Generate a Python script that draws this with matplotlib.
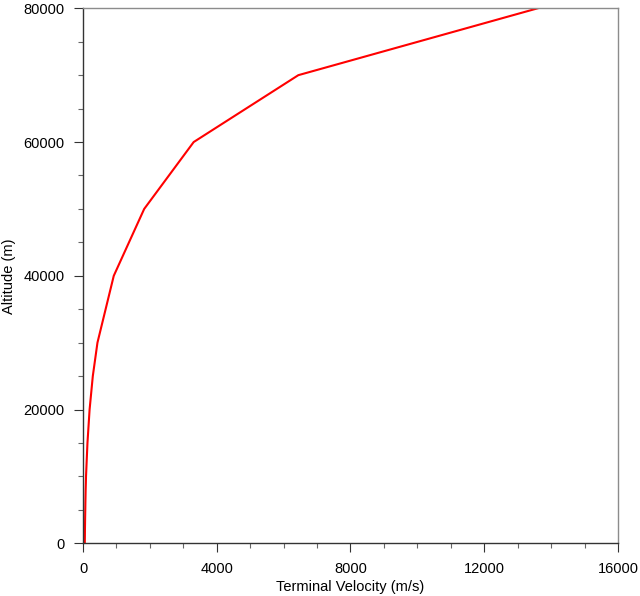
import matplotlib
matplotlib.use("Agg")
import matplotlib.pyplot as plt
from matplotlib.ticker import MultipleLocator

# altitude (m) vs terminal velocity (m/s)
altitude = [0, 1000, 2000, 3000, 4000, 5000, 6000, 7000, 8000, 9000, 10000,
            15000, 20000, 25000, 30000, 40000, 50000, 60000, 70000, 80000]
velocity = [53, 56, 58, 61, 64, 68, 71, 75, 79, 85, 90,
            133, 197, 293, 432, 920, 1830, 3310, 6440, 13600]

plt.rcParams["font.family"] = ["Liberation Sans", "DejaVu Sans"]

fig = plt.figure(figsize=(6.4, 5.96), dpi=100)
ax = fig.add_axes([0.1297, 0.0884, 0.8359, 0.8977])

ax.plot(velocity, altitude, color="#ff0000", linewidth=1.5)

ax.set_xlim(0, 16000)
ax.set_ylim(0, 80000)
ax.xaxis.set_major_locator(MultipleLocator(4000))
ax.xaxis.set_minor_locator(MultipleLocator(1000))
ax.yaxis.set_major_locator(MultipleLocator(20000))
ax.yaxis.set_minor_locator(MultipleLocator(5000))

ax.tick_params(which="major", direction="out", length=6.5, width=0.8,
               color="#333333", labelsize=10.5, pad=7)
ax.tick_params(which="minor", direction="out", length=3.6, width=0.8,
               color="#666666")

for side in ["left", "bottom"]:
    ax.spines[side].set_color("#333333")
    ax.spines[side].set_linewidth(1.0)
for side in ["top", "right"]:
    ax.spines[side].set_color("#8c8c8c")
    ax.spines[side].set_linewidth(1.0)

ax.set_xlabel("Terminal Velocity (m/s)", fontsize=10.5, labelpad=2.5)
ax.set_ylabel("Altitude (m)", fontsize=10.5, labelpad=5)

fig.savefig("out.png", dpi=100)
